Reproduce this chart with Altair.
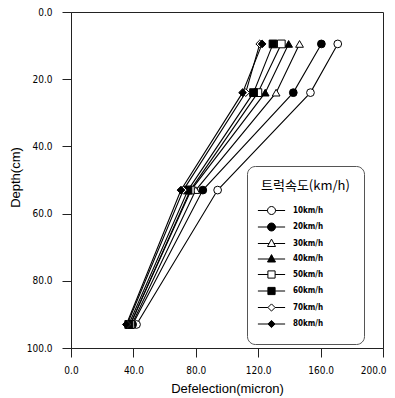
import altair as alt
import pandas as pd

speeds = ["10km/h", "20km/h", "30km/h", "40km/h", "50km/h", "60km/h", "70km/h", "80km/h"]
depths = [9.5, 24.0, 53.0, 93.0]
defl_10 = [171.0, 153.5, 94.0, 42.0]
defl_20 = [160.5, 142.5, 84.5, 39.5]
defl_30 = [146.5, 131.5, 80.0, 39.0]
defl_40 = [139.5, 124.5, 77.0, 38.0]
defl_50 = [134.8, 119.8, 76.5, 38.0]
defl_60 = [129.5, 117.0, 75.0, 37.0]
defl_70 = [121.0, 112.0, 72.0, 36.0]
defl_80 = [122.5, 110.0, 70.5, 35.5]

series = [defl_10, defl_20, defl_30, defl_40, defl_50, defl_60, defl_70, defl_80]
rows = []
for s, vals in zip(speeds, series):
    for d, v in zip(depths, vals):
        rows.append({"speed": s, "depth": d, "defl": v})
df = pd.DataFrame(rows)

plot_shapes = ["circle", "circle", "triangle-up", "triangle-up",
               "square", "square", "diamond", "diamond"]
fills = ["white", "black", "white", "black", "white", "black", "white", "black"]
strokes = ["black"] * 8

circ = "M-3.4,0H-1M1,0H3.4M-1,0A1,1 0 1,0 1,0A1,1 0 1,0 -1,0Z"
tri = "M-3.4,0H-0.6M0.6,0H3.4M0,-1.1L1,0.75L-1,0.75Z"
sq = "M-3.4,0H-0.9M0.9,0H3.4M-0.9,-0.9H0.9V0.9H-0.9Z"
dia = "M-3.4,0H-0.9M0.9,0H3.4M0,-0.9L0.9,0L0,0.9L-0.9,0Z"
legend_shapes = [circ, circ, tri, tri, sq, sq, dia, dia]

label_font = "Liberation Sans Narrow, Arial Narrow, DejaVu Sans Condensed, Liberation Sans, sans-serif"

x_enc = alt.X("defl:Q", scale=alt.Scale(domain=[0, 200], nice=False),
              axis=alt.Axis(values=list(range(0, 201, 20)),
                            labelExpr="datum.value % 40 == 0 ? format(datum.value, '.1f') : ''",
                            title="Defelection(micron)", titleY=44, titleBaseline="alphabetic",
                            labelPadding=8, labelFlush=False,
                            labelAlign={"condition": {"test": "datum.value == 200", "value": "right"},
                                        "value": "center"},
                            labelOffset={"condition": {"test": "datum.value == 200", "value": 3},
                                         "value": 0}))
y_enc = alt.Y("depth:Q", scale=alt.Scale(domain=[0, 100], reverse=True, nice=False),
              axis=alt.Axis(values=list(range(0, 101, 10)),
                            labelExpr="datum.value % 20 == 0 ? format(datum.value, '.1f') : ''",
                            title="Depth(cm)", titleX=-52, titleY=165, titleAngle=270,
                            titleBaseline="alphabetic", labelPadding=10))

lines = alt.Chart(df).mark_line(color="black", strokeWidth=1.1).encode(
    x=x_enc, y=y_enc, detail="speed:N", order="depth:Q"
)

points = alt.Chart(df).mark_point(filled=True, stroke="black", strokeWidth=1, size=60, opacity=1).encode(
    x="defl:Q", y="depth:Q",
    shape=alt.Shape("speed:N", scale=alt.Scale(domain=speeds, range=plot_shapes), legend=None),
    fill=alt.Fill("speed:N", scale=alt.Scale(domain=speeds, range=fills), legend=None),
)

leg = alt.Legend(
    orient="none", legendX=176, legendY=154, padding=14,
    strokeColor="#555", cornerRadius=8, fillColor="white",
    title="트럭속도(km/h)", titleFont="Noto Sans CJK KR", titleFontSize=13,
    titleFontWeight="normal", titleColor="black", titlePadding=13,
    labelFont=label_font, labelFontSize=8, labelFontWeight="bold", labelColor="black",
    symbolSize=64, symbolOffset=6, labelOffset=17, rowPadding=3.5,
    symbolStrokeWidth=1,
)

legend_layer = alt.Chart(df).transform_filter("false").mark_point(
    filled=True, strokeWidth=1, opacity=1
).encode(
    x="defl:Q", y="depth:Q",
    shape=alt.Shape("speed:N", scale=alt.Scale(domain=speeds, range=legend_shapes), legend=leg),
    fill=alt.Fill("speed:N", scale=alt.Scale(domain=speeds, range=fills), legend=leg),
    stroke=alt.Stroke("speed:N", scale=alt.Scale(domain=speeds, range=strokes), legend=leg),
)

chart = alt.layer(lines, points, legend_layer).resolve_scale(
    shape="independent", fill="independent", stroke="independent"
).properties(
    width=312, height=336,
    autosize=alt.AutoSizeParams(type="none"),
    padding={"left": 63, "top": 4, "right": 4, "bottom": 48},
).configure_view(
    stroke="#222", strokeWidth=1
).configure_axis(
    grid=False, domainColor="#222", tickColor="#222", tickSize=9,
    labelFont=label_font, labelFontSize=10, labelColor="black",
    titleFont="Liberation Sans", titleFontSize=13, titleFontWeight="normal", titleColor="black",
)

chart.save("out.html", embed_options={"renderer": "svg", "actions": False})
